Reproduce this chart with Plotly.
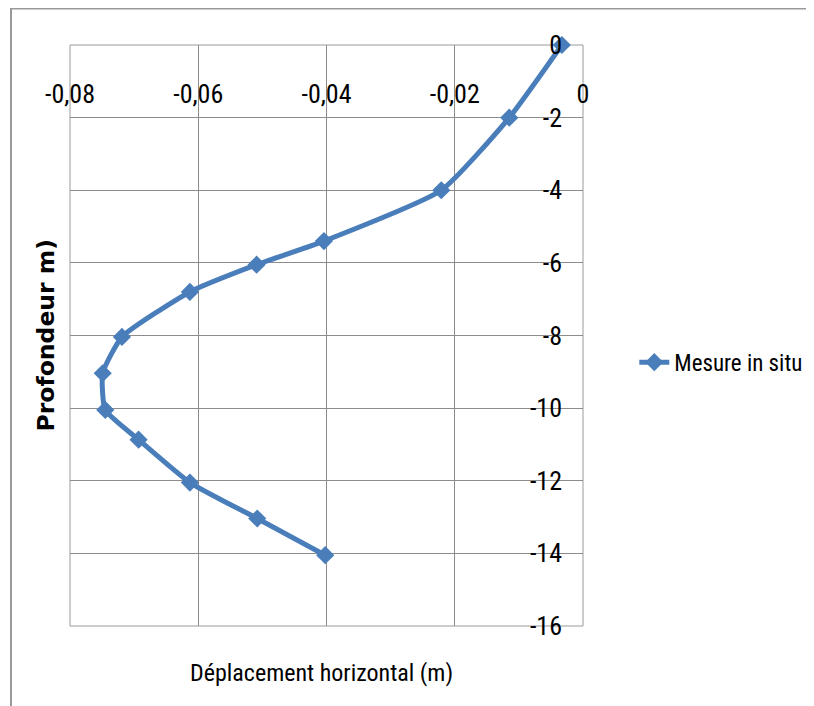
import plotly.graph_objects as go

# ---- data ----
depth = [0, -2, -4, -5.4, -6.05, -6.8, -8.04, -9.04, -10.05, -10.87, -12.05, -13.04, -14.05]
displacement = [-0.0033, -0.0115, -0.0221, -0.0404, -0.0509, -0.0613, -0.0719,
                -0.0749, -0.0745, -0.0693, -0.0613, -0.0508, -0.0402]
series_name = "Mesure in situ"

x_tickvals = [-0.08, -0.06, -0.04, -0.02, 0]
x_ticktext = ["-0,08", "-0,06", "-0,04", "-0,02", "0"]
y_tickvals = [0, -2, -4, -6, -8, -10, -12, -14, -16]
y_ticktext = ["0", "-2", "-4", "-6", "-8", "-10", "-12", "-14", "-16"]

x_title = "Déplacement horizontal (m)"
y_title = "Profondeur m)"

# ---- styles ----
NARROW = "Liberation Sans Narrow, Roboto Condensed, Roboto, sans-serif"
BLUE = "#4A7EBB"
GRID = "#8c8c8c"

fig = go.Figure()
fig.add_trace(go.Scatter(
    x=displacement, y=depth, name=series_name,
    mode="lines+markers",
    line=dict(color=BLUE, width=5, shape="spline", smoothing=0.5),
    marker=dict(symbol="diamond", size=14, color=BLUE),
    cliponaxis=False,
))

fig.update_layout(
    width=806, height=698,
    margin=dict(l=62, r=231, t=37, b=80, autoexpand=False),
    paper_bgcolor="white", plot_bgcolor="white",
    showlegend=True,
    legend=dict(x=1.10, y=0.454, xanchor="left", yanchor="middle",
                font=dict(family=NARROW, size=23, color="black"),
                bgcolor="rgba(0,0,0,0)"),
    xaxis=dict(range=[-0.08, 0], tickvals=x_tickvals, ticktext=x_ticktext,
               showgrid=True, gridcolor=GRID, gridwidth=1, zeroline=False,
               showline=False, ticks="", anchor="free", position=0.946, side="bottom",
               ticklabeloverflow="allow",
               tickfont=dict(family=NARROW, size=26, color="black")),
    yaxis=dict(range=[-16, 0], tickvals=y_tickvals, ticktext=y_ticktext,
               showgrid=True, gridcolor=GRID, gridwidth=1, zeroline=False,
               showline=False, ticks="", side="right", ticklabelposition="inside",
               ticklabelstandoff=18, ticklabeloverflow="allow",
               tickfont=dict(family=NARROW, size=26, color="black")),
    shapes=[
        dict(type="rect", xref="paper", yref="paper", x0=0, x1=1, y0=0, y1=1,
             line=dict(color="#9a9a9a", width=1), layer="below"),
        dict(type="line", xref="paper", yref="paper", x0=-0.115, x1=1.46, y0=1.0637, y1=1.0637,
             line=dict(color="#999999", width=3)),
        dict(type="line", xref="paper", yref="paper", x0=-0.115, x1=-0.115, y0=1.0637, y1=-0.15,
             line=dict(color="#999999", width=2)),
    ],
    annotations=[
        dict(text=y_title, xref="paper", yref="paper", x=0, xshift=-25, y=0.5,
             xanchor="center", yanchor="middle", textangle=-90, showarrow=False,
             font=dict(family="DejaVu Sans", size=23.5, color="black", weight="bold")),
        dict(text=x_title, xref="paper", yref="paper", x=0.49, y=-0.081,
             xanchor="center", yanchor="middle", showarrow=False,
             font=dict(family=NARROW, size=24, color="black")),
    ],
)

fig.write_html("out.html")
